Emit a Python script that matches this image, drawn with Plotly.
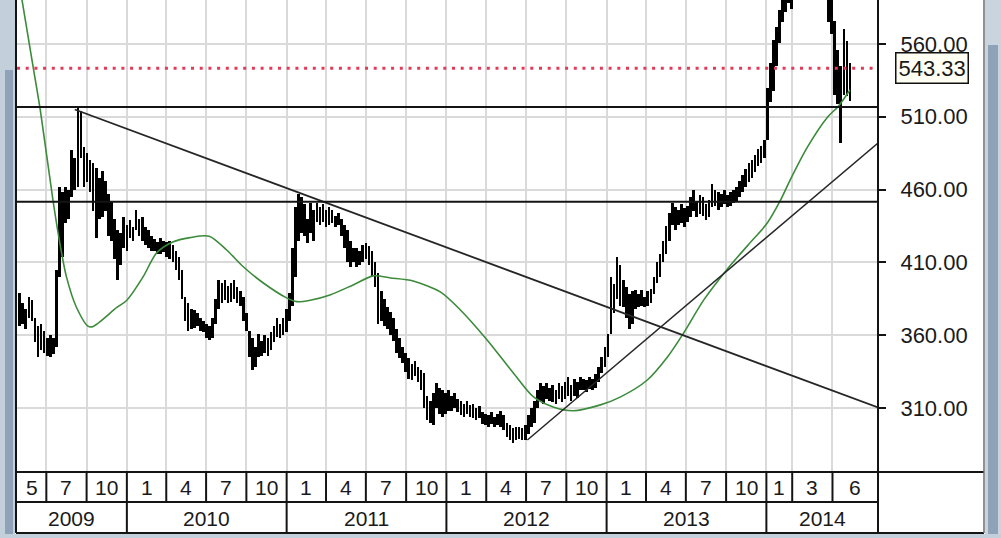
import plotly.graph_objects as go
import pandas as pd

# ---------------- data ----------------
week_start = "2009-05-01"
highs = [389,382,378,386,384,372,366,368,363,358,360,358,
         405,462,458,462,460,487,482,516,514,489,485,480,
         478,475,468,473,466,457,452,440,432,430,441,436,
         439,434,446,440,441,434,432,428,426,424,427,425,
         424,425,422,418,414,405,386,382,378,377,375,372,
         370,368,366,372,385,398,396,398,394,396,398,393,
         390,386,375,363,358,352,361,356,360,358,362,366,
         372,368,372,378,389,420,448,457,455,450,440,451,
         446,451,448,450,446,448,446,442,444,440,436,432,
         425,420,420,418,422,423,421,418,410,403,390,385,
         379,376,372,364,358,352,348,344,340,342,338,336,
         334,318,315,320,327,324,322,320,322,318,320,316,
         315,313,315,312,313,310,311,307,306,305,307,304,
         306,308,305,300,298,296,297,297,296,298,305,310,
         315,322,327,325,327,324,326,322,327,325,328,331,
         326,330,328,331,330,329,331,330,333,338,345,352,
         361,400,395,414,408,398,393,388,390,391,388,391,
         386,390,392,400,410,416,425,435,444,451,448,446,
         450,447,449,455,460,452,456,455,450,453,464,460,
         458,457,460,456,458,460,462,466,470,474,478,480,
         484,488,490,494,530,547,563,572,583,592,598,602,
         600,604,610,612,615,618,616,614,612,610,608,604,
         598,590,576,556,545,570,562,547]
lows = [366,368,364,372,370,355,345,350,348,346,345,347,
        352,400,414,437,440,455,460,462,482,462,465,458,
        445,427,440,441,445,428,425,412,398,408,420,418,
        427,425,432,428,425,422,420,418,418,416,416,417,
        414,412,410,405,398,385,370,363,364,365,366,363,
        362,358,357,358,368,378,382,384,382,383,385,382,
        380,370,363,345,336,338,345,346,348,346,350,355,
        359,358,360,362,370,380,400,425,430,428,423,430,
        425,438,436,438,434,436,437,434,436,428,420,410,
        407,410,407,408,410,412,408,400,393,368,370,366,
        364,360,356,348,344,341,335,330,329,332,328,322,
        310,302,300,298,310,306,304,306,308,308,310,307,
        305,304,306,304,303,302,303,299,298,297,299,297,
        298,297,295,290,288,286,288,289,288,288,292,297,
        300,310,315,313,316,315,314,313,316,314,316,318,
        315,318,317,322,322,321,323,322,324,328,334,338,
        345,361,375,385,380,379,372,364,368,378,379,380,
        379,380,382,388,396,400,410,416,425,436,432,436,
        437,434,438,441,445,441,443,442,439,441,448,449,
        446,448,450,448,449,451,452,455,458,462,465,468,
        472,476,478,482,494,520,528,545,561,575,582,588,
        584,592,596,598,600,602,600,598,596,594,593,590,
        575,567,525,519,492,525,524,521]
last_price = 543.33

ma_dates = ["2009-05-01","2009-06-01","2009-06-17","2009-07-16","2009-08-01","2009-08-16",
            "2009-09-08","2009-10-05","2009-10-16","2009-12-09","2010-01-01","2010-02-07",
            "2010-03-10","2010-04-16","2010-05-25","2010-07-08","2010-08-17","2010-09-24",
            "2010-11-08","2011-01-01","2011-01-24","2011-02-24","2011-04-10","2011-06-02",
            "2011-07-18","2011-08-26","2011-10-17","2011-12-18","2012-02-02","2012-04-03",
            "2012-06-02","2012-07-18","2012-09-01","2012-10-17","2012-12-18","2013-02-02",
            "2013-04-04","2013-05-20","2013-06-26","2013-08-11","2013-10-04","2013-11-19",
            "2014-01-03","2014-02-02","2014-02-25","2014-04-05","2014-05-21","2014-06-13",
            "2014-07-11"]
ma_values = [600,544,515,453,423,400,379,366,366,379,384,400,
             416.5,424,427,428,418.5,407,396,385.6,383,384,387.6,394.5,
             400.7,399.3,397.2,389.7,377.3,356.7,334,317.6,310.7,308.1,312.1,317.6,
             329.2,345,361.5,384.2,405.5,421.5,437,452.5,467,489.3,509.9,516.7,
             528.4]

desc_dates = ["2009-09-04", "2014-09-13"]
desc_values = [515.0, 310.3]
asc_dates = ["2012-07-04", "2014-09-13"]
asc_values = [288.0, 492.0]
level_values = [516.7, 451.7]

y_ticks = [310, 360, 410, 460, 510, 560]
x_range = ["2009-04-25", "2014-09-13"]
y_range = [266.0, 590.2]
month_bounds = ["2009-07-01","2009-10-01","2010-01-01","2010-04-01","2010-07-01","2010-10-01",
                "2011-01-01","2011-04-01","2011-07-01","2011-10-01","2012-01-01","2012-04-01",
                "2012-07-01","2012-10-01","2013-01-01","2013-04-01","2013-07-01","2013-10-01",
                "2014-01-01","2014-03-01","2014-06-01"]
month_labels = ["5","7","10","1","4","7","10","1","4","7","10","1","4","7","10",
                "1","4","7","10","1","3","6"]
year_bounds = ["2010-01-01","2011-01-01","2012-01-01","2013-01-01","2014-01-01"]
year_labels = ["2009","2010","2011","2012","2013","2014"]

# ---------------- geometry ----------------
W, H = 1001, 538
ML, MR, MT, MB = 17, 123, 0, 66
PW, PH = W - ML - MR, H - MT - MB


def px(xp):
    return (xp - ML) / PW


def py(yp):
    return (H - MB - yp) / PH


FONT = "Liberation Sans"
TXT = "#1a1a1a"
LINE = "#141414"

dates = pd.date_range(week_start, periods=len(highs), freq="7D")
heights = [h - l for h, l in zip(highs, lows)]

fig = go.Figure()
fig.add_trace(go.Bar(x=dates, y=heights, base=lows, marker=dict(color="black", line=dict(width=0)),
                     width=6 * 86400000, showlegend=False, hoverinfo="skip"))
fig.add_trace(go.Scatter(x=ma_dates, y=ma_values, mode="lines",
                         line=dict(color="#3b8b3b", width=1.6, shape="spline", smoothing=0.8),
                         showlegend=False, hoverinfo="skip"))
fig.add_trace(go.Scatter(x=desc_dates, y=desc_values, mode="lines",
                         line=dict(color="#262626", width=1.8), showlegend=False, hoverinfo="skip"))
fig.add_trace(go.Scatter(x=asc_dates, y=asc_values, mode="lines",
                         line=dict(color="#262626", width=1.5), showlegend=False, hoverinfo="skip"))

shapes = []
for v in level_values:
    shapes.append(dict(type="line", xref="paper", yref="y", x0=0, x1=1, y0=v, y1=v,
                       line=dict(color=LINE, width=2), layer="above"))
shapes.append(dict(type="line", xref="paper", yref="y", x0=0, x1=1, y0=last_price, y1=last_price,
                   line=dict(color="#e33a57", width=3, dash="3px,5.7px"), layer="above"))


def pline(x0, y0, x1, y1, w=2, c=LINE):
    shapes.append(dict(type="line", xref="paper", yref="paper", x0=px(x0), x1=px(x1),
                       y0=py(y0), y1=py(y1), line=dict(color=c, width=w), layer="above"))


pline(16, 0, 16, 533)
pline(878, 0, 878, 533)
pline(16, 472, 984, 472)
pline(16, 502, 878, 502)
pline(16, 533, 984, 533)
pline(984, 0, 984, 533, w=1.5, c="#6d6d6d")

for b in month_bounds:
    y1 = 533 if b in year_bounds else 502
    shapes.append(dict(type="line", xref="x", yref="paper", x0=b, x1=b, y0=py(472), y1=py(y1),
                       line=dict(color=LINE, width=2), layer="above"))

# window chrome
shapes.append(dict(type="rect", xref="paper", yref="paper", x0=px(0), x1=px(15), y0=py(0), y1=py(538),
                   fillcolor="#c3cfdb", line=dict(width=0), layer="above"))
shapes.append(dict(type="rect", xref="paper", yref="paper", x0=px(5), x1=px(13), y0=py(70), y1=py(538),
                   fillcolor="#8fa2b7", line=dict(width=0), layer="above"))
shapes.append(dict(type="rect", xref="paper", yref="paper", x0=px(985), x1=px(1001), y0=py(0), y1=py(538),
                   fillcolor="#c9d4df", line=dict(width=0), layer="above"))
shapes.append(dict(type="rect", xref="paper", yref="paper", x0=px(988), x1=px(998), y0=py(45), y1=py(538),
                   fillcolor="#8ea2b8", line=dict(width=0), layer="above"))
shapes.append(dict(type="rect", xref="paper", yref="paper", x0=px(0), x1=px(1001), y0=py(534), y1=py(538),
                   fillcolor="#c3cfdb", line=dict(width=0), layer="above"))

annotations = []
edges = [pd.Timestamp(x_range[0])] + [pd.Timestamp(b) for b in month_bounds] + [pd.Timestamp(x_range[1])]
for i, lab in enumerate(month_labels):
    c = edges[i] + (edges[i + 1] - edges[i]) / 2
    annotations.append(dict(x=c, xref="x", y=py(487.5), yref="paper", text=lab, showarrow=False,
                            font=dict(family=FONT, size=21, color=TXT), xanchor="center", yanchor="middle"))
yedges = [pd.Timestamp(x_range[0])] + [pd.Timestamp(b) for b in year_bounds] + [pd.Timestamp(x_range[1])]
for i, lab in enumerate(year_labels):
    c = yedges[i] + (yedges[i + 1] - yedges[i]) / 2
    annotations.append(dict(x=c, xref="x", y=py(518), yref="paper", text=lab, showarrow=False,
                            font=dict(family=FONT, size=21, color=TXT), xanchor="center", yanchor="middle"))
annotations.append(dict(x=px(895), xref="paper", y=last_price, yref="y", text=f"{last_price:.2f}",
                        showarrow=False, xanchor="left", yanchor="middle",
                        font=dict(family=FONT, size=22, color=TXT),
                        bgcolor="#fffff4", bordercolor="#111111", borderwidth=1.5, borderpad=2))

fig.update_layout(
    width=W, height=H, margin=dict(l=ML, r=MR, t=MT, b=MB),
    plot_bgcolor="white", paper_bgcolor="white",
    shapes=shapes, annotations=annotations, bargap=0, hovermode=False,
    xaxis=dict(type="date", range=x_range, tickvals=month_bounds, showticklabels=False, ticks="",
               showgrid=True, gridcolor="#dadada", gridwidth=2, zeroline=False, showline=False),
    yaxis=dict(side="right", range=y_range, tickvals=y_ticks, tickformat=".2f",
               ticks="outside", ticklen=7, tickwidth=2, tickcolor=LINE, ticklabelstandoff=10,
               tickfont=dict(family=FONT, size=22, color=TXT),
               showgrid=True, gridcolor="#dadada", gridwidth=2, zeroline=False, showline=False),
)

fig.write_html("out.html", config={"displayModeBar": False},
               post_script="document.body.style.margin='0';document.body.style.overflow='hidden';")
